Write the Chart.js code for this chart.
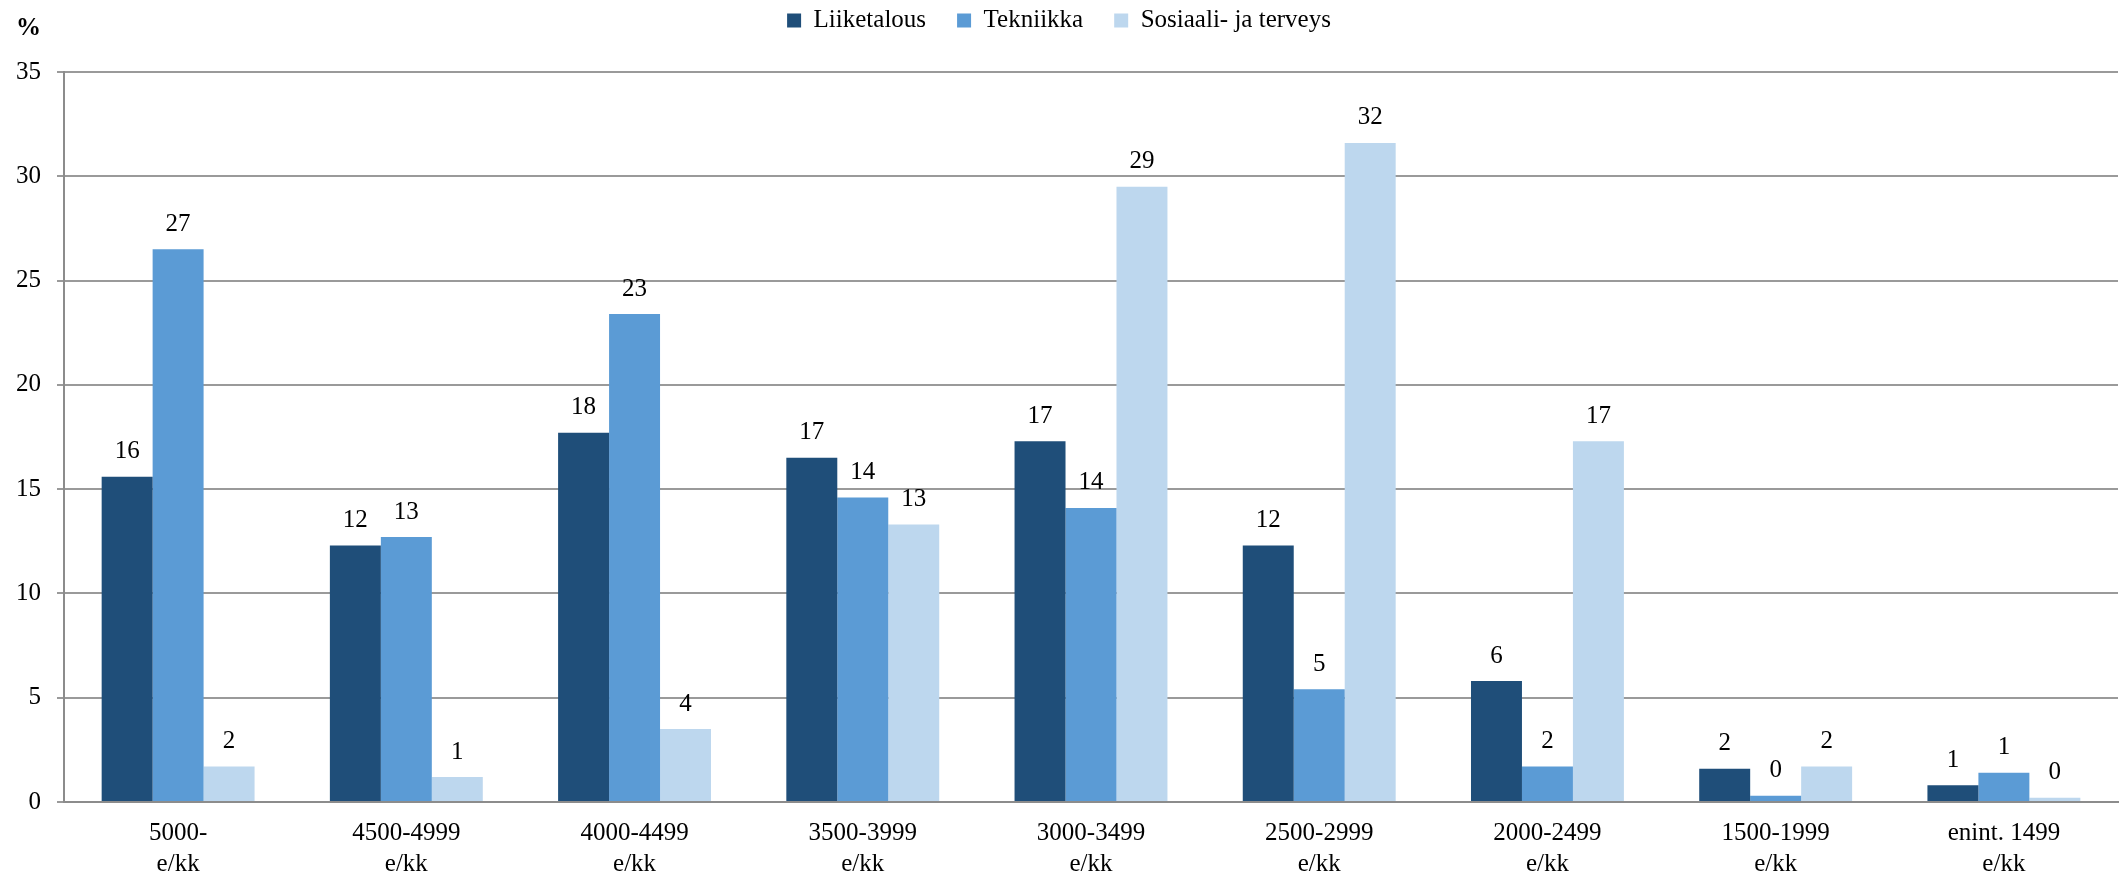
<!DOCTYPE html>
<html>
<head>
<meta charset="utf-8">
<script src="https://cdn.jsdelivr.net/npm/chart.js@4.4.0/dist/chart.umd.min.js"></script>
<style>
  html, body { margin: 0; padding: 0; background: #fff; }
  #wrap { width: 2119px; height: 875px; }
</style>
</head>
<body>
<div id="wrap"><canvas id="myChart"></canvas></div>
<script>
// Palkkaluokat ja osuudet (%)
const categories = [
  ['5000-', 'e/kk'],
  ['4500-4999', 'e/kk'],
  ['4000-4499', 'e/kk'],
  ['3500-3999', 'e/kk'],
  ['3000-3499', 'e/kk'],
  ['2500-2999', 'e/kk'],
  ['2000-2499', 'e/kk'],
  ['1500-1999', 'e/kk'],
  ['enint. 1499', 'e/kk'],
]

const liiketalous = [15.6, 12.3, 17.7, 16.5, 17.3, 12.3, 5.8, 1.6, 0.8]
const tekniikka = [26.5, 12.7, 23.4, 14.6, 14.1, 5.4, 1.7, 0.3, 1.4]
const sosiaali = [1.7, 1.2, 3.5, 13.3, 29.5, 31.6, 17.3, 1.7, 0.2]

// arvot sellaisina kuin ne kuvassa näkyvät palkkien päällä
const liiketalousLabels = [16, 12, 18, 17, 17, 12, 6, 2, 1]
const tekniikkaLabels = [27, 13, 23, 14, 14, 5, 2, 0, 1]
const sosiaaliLabels = [2, 1, 4, 13, 29, 32, 17, 2, 0]

const yTicks = [0, 5, 10, 15, 20, 25, 30, 35]

const FONT = "'Liberation Serif', 'Times New Roman', serif"
const FSIZE = 25

// selitteen korkeus niin, että piirtoalue alkaa oikeasta kohdasta
const legendHeight = {
  id: 'legendHeight',
  beforeInit(chart) {
    const origFit = chart.legend.fit
    chart.legend.fit = function () {
      origFit.call(this)
      this.height = 95
    }
  },
}

// numerot palkkien yläpuolelle ja %-merkki akselin päälle
const valueLabels = {
  id: 'valueLabels',
  afterDatasetsDraw(chart) {
    const { ctx } = chart
    ctx.save()
    ctx.fillStyle = '#000'
    ctx.font = `${FSIZE}px ${FONT}`
    ctx.textAlign = 'center'
    ctx.textBaseline = 'middle'
    chart.data.datasets.forEach((ds, i) => {
      const meta = chart.getDatasetMeta(i)
      meta.data.forEach((bar, j) => {
        ctx.fillText(String(ds.shownLabels[j]), bar.x, bar.y - 25)
      })
    })
    ctx.font = `bold ${FSIZE}px ${FONT}`
    ctx.textAlign = 'right'
    ctx.fillText('%', 41, 29)
    ctx.restore()
  },
}

const ctx = document.getElementById('myChart')

new Chart(ctx, {
  type: 'bar',
  data: {
    labels: categories,
    datasets: [
      {
        label: 'Liiketalous',
        data: liiketalous,
        shownLabels: liiketalousLabels,
        backgroundColor: '#1F4E79',
      },
      {
        label: 'Tekniikka',
        data: tekniikka,
        shownLabels: tekniikkaLabels,
        backgroundColor: '#5B9BD5',
      },
      {
        label: 'Sosiaali- ja terveys',
        data: sosiaali,
        shownLabels: sosiaaliLabels,
        backgroundColor: '#BDD7EE',
      },
    ],
  },
  options: {
    responsive: true,
    maintainAspectRatio: false,
    animation: false,
    devicePixelRatio: 1,
    barPercentage: 1,
    categoryPercentage: 0.67,
    layout: { padding: { left: 0, right: 1, top: -23, bottom: 0 } },
    plugins: {
      legend: {
        position: 'top',
        labels: {
          color: '#000',
          font: { family: FONT, size: FSIZE },
          boxWidth: 14,
          boxHeight: 14,
          padding: 31,
        },
      },
      tooltip: { enabled: false },
    },
    scales: {
      x: {
        grid: { display: false },
        border: { display: true, color: '#8c8c8c', width: 2 },
        ticks: {
          color: '#000',
          font: { family: FONT, size: FSIZE, lineHeight: 1.24 },
          padding: 8,
          maxRotation: 0,
          autoSkip: false,
        },
        afterFit(scale) {
          scale.height = 73
        },
      },
      y: {
        min: 0,
        max: 35,
        afterBuildTicks(scale) {
          scale.ticks = yTicks.map((v) => ({ value: v }))
        },
        grid: { color: '#9a9a9a', lineWidth: 2, tickLength: 7, drawTicks: true },
        border: { display: true, color: '#8c8c8c', width: 2 },
        ticks: {
          color: '#000',
          font: { family: FONT, size: FSIZE },
          padding: 16,
        },
        afterFit(scale) {
          scale.width = 64
        },
      },
    },
  },
  plugins: [legendHeight, valueLabels],
})
</script>
</body>
</html>
